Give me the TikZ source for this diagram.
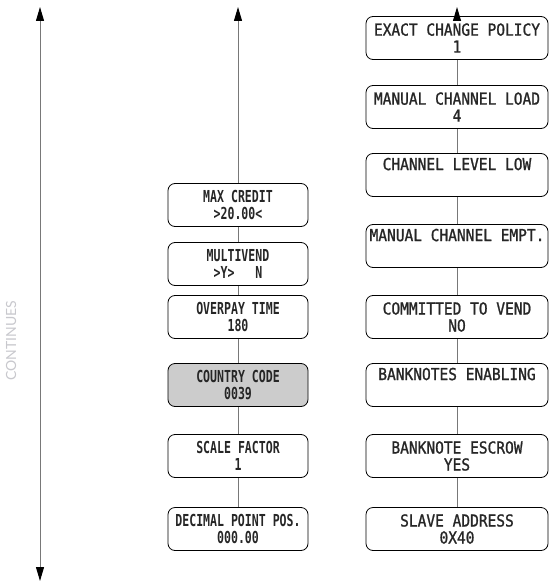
\documentclass[tikz,border=0pt]{standalone}
\usepackage{fontspec}
\newfontfamily\midfont[FakeStretch=0.70]{DejaVu Sans Mono Bold}
\newfontfamily\rightfont[FakeStretch=0.88,FakeBold=1.2]{DejaVu Sans Mono}
\newfontfamily\contfont{Lato}
\usetikzlibrary{arrows.meta}
\definecolor{linegray}{RGB}{120,120,120}
\definecolor{fillgray}{RGB}{204,204,204}
\definecolor{textgray}{RGB}{200,200,205}
\begin{document}
\begin{tikzpicture}[x=1pt,y=-1pt,
  menubox/.style={draw=black, line width=0.8pt, rounded corners=7pt,
    minimum height=43pt, inner sep=0pt, align=center, text=black!85},
  midbox/.style={menubox, minimum width=140pt,
    font=\midfont\fontsize{16.5}{17}\selectfont},
  rightbox/.style={menubox, minimum width=182pt,
    font=\rightfont\fontsize{16.5}{17}\selectfont},
  conn/.style={draw=linegray, line width=1pt},
  tip/.style={-{Triangle[length=14pt,width=8pt,color=black]}},
]
\path[use as bounding box] (0,0) rectangle (556,588);

% left arrow
\coordinate (ltop) at (40,7);
\coordinate (lbot) at (40,581);
\draw[conn, {Triangle[length=14pt,width=8pt,color=black]}-{Triangle[length=14pt,width=8pt,color=black]}] (ltop) -- (lbot);
\node[rotate=90, text=textgray, font=\contfont\fontsize{14}{14}\selectfont] (cont) at (11,341) {CONTINUES};

% middle column
\node[midbox] (m1) at (238,205) {MAX CREDIT\\>20.00<};
\node[midbox] (m2) at (238,264) {MULTIVEND\\>Y>\ \ \ N};
\node[midbox] (m3) at (238,317) {OVERPAY TIME\\180};
\node[midbox, fill=fillgray] (m4) at (238,385) {COUNTRY CODE\\0039};
\node[midbox] (m5) at (238,456) {SCALE FACTOR\\1};
\node[midbox] (m6) at (238,529) {DECIMAL POINT POS.\\000.00};
\coordinate (mtop) at (238,7);
\draw[conn, tip] (m1) -- (mtop);
\draw[conn] (m1) -- (m2);
\draw[conn] (m2) -- (m3);
\draw[conn] (m3) -- (m4);
\draw[conn] (m4) -- (m5);
\draw[conn] (m5) -- (m6);

% right column
\node[rightbox] (r1) at (457,38) {EXACT CHANGE POLICY\\1};
\node[rightbox] (r2) at (457,107) {MANUAL CHANNEL LOAD\\4};
\node[rightbox] (r3) at (457,175) {CHANNEL LEVEL LOW\\\strut};
\node[rightbox] (r4) at (457,246) {MANUAL CHANNEL EMPT.\\\strut};
\node[rightbox] (r5) at (457,317) {COMMITTED TO VEND\\NO};
\node[rightbox] (r6) at (457,385) {BANKNOTES ENABLING\\\strut};
\node[rightbox] (r7) at (457,456) {BANKNOTE ESCROW\\YES};
\node[rightbox] (r8) at (457,529) {SLAVE ADDRESS\\0X40};
\coordinate (rtop) at (457,7);
\draw[conn, tip] (r1) -- (rtop);
\draw[conn] (r1) -- (r2);
\draw[conn] (r2) -- (r3);
\draw[conn] (r3) -- (r4);
\draw[conn] (r4) -- (r5);
\draw[conn] (r5) -- (r6);
\draw[conn] (r6) -- (r7);
\draw[conn] (r7) -- (r8);
\end{tikzpicture}
\end{document}
